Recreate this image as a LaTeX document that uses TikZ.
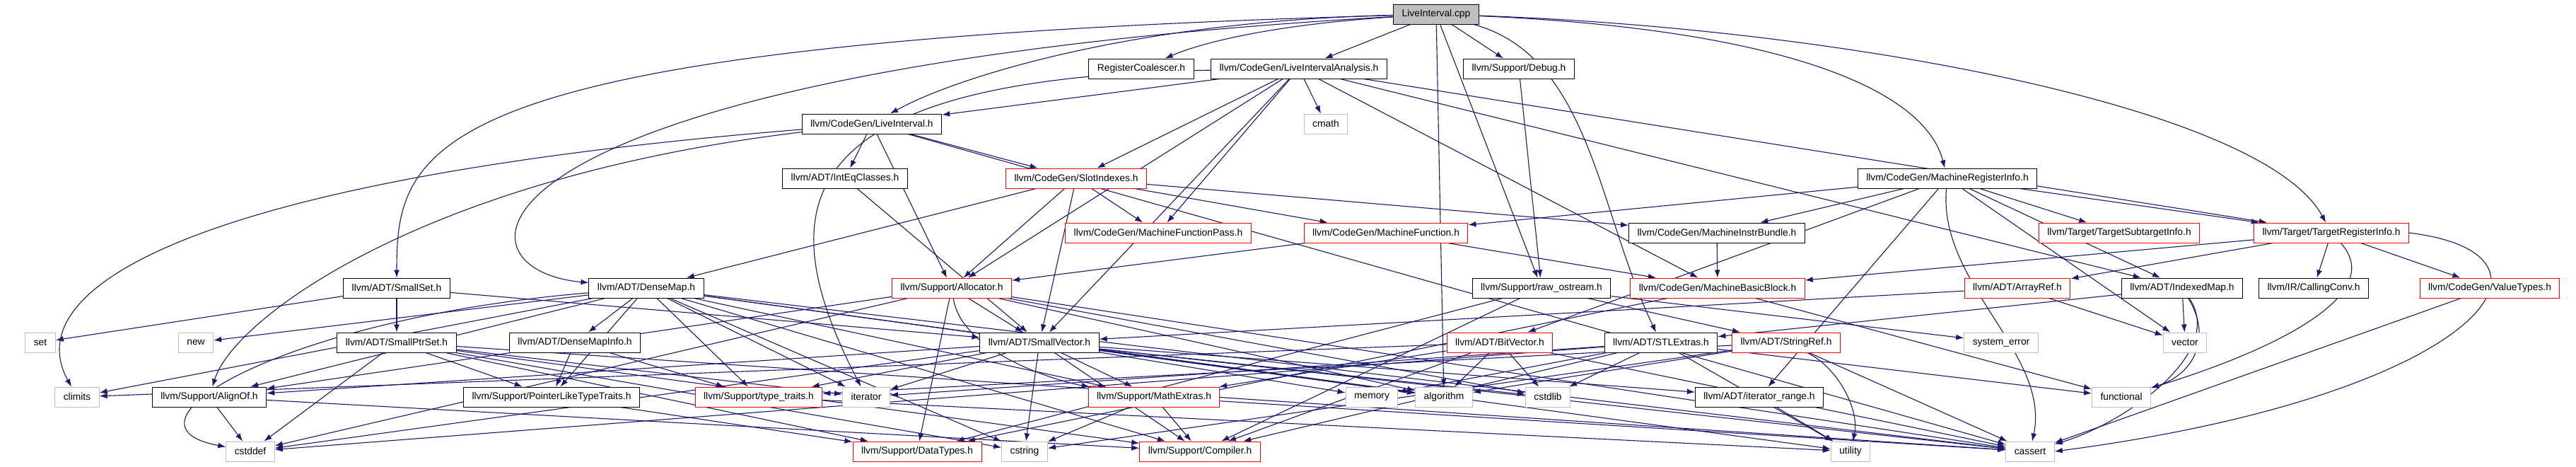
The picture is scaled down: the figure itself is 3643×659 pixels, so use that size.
\documentclass[tikz,border=0pt]{standalone}
\usepackage{fontspec}
\setmainfont{Liberation Sans}
\usetikzlibrary{arrows.meta,backgrounds}
\definecolor{edgeblue}{HTML}{191970}
\definecolor{boxred}{HTML}{FF0000}
\definecolor{boxgray}{HTML}{BFBFBF}
\begin{document}
\begin{tikzpicture}[x=1pt, y=-1pt,
  file/.style={draw=black, fill=white, line width=1pt, inner xsep=12pt, minimum height=28pt, font=\fontsize{13.8}{16}\selectfont},
  trunc/.style={file, draw=boxred},
  sys/.style={file, draw=boxgray},
  root/.style={file, fill=boxgray},
  dep/.style={draw=edgeblue, line width=1.1pt, -{Latex[length=11pt,width=8pt]}}]
\useasboundingbox (0,0) rectangle (3643,659);
% row 0
\node[root] (cpp) at (2031,20) {LiveInterval.cpp};
% row 1
\node[file] (coalescer) at (1614,97) {RegisterCoalescer.h};
\node[file] (lia) at (1837,97) {llvm/CodeGen/LiveIntervalAnalysis.h};
\node[file] (debug) at (2148,97) {llvm/Support/Debug.h};
% row 2
\node[file] (liveint) at (1233,175) {llvm/CodeGen/LiveInterval.h};
\node[sys] (cmath) at (1875,175) {cmath};
% row 3
\node[file] (inteq) at (1195,252) {llvm/ADT/IntEqClasses.h};
\node[trunc] (slotidx) at (1522,252) {llvm/CodeGen/SlotIndexes.h};
\node[file] (mri) at (2754,252) {llvm/CodeGen/MachineRegisterInfo.h};
% row 4
\node[trunc] (mfpass) at (1638,329) {llvm/CodeGen/MachineFunctionPass.h};
\node[trunc] (mfunc) at (1960,329) {llvm/CodeGen/MachineFunction.h};
\node[file] (bundle) at (2428,329) {llvm/CodeGen/MachineInstrBundle.h};
\node[trunc] (subtarget) at (2997,329) {llvm/Target/TargetSubtargetInfo.h};
\node[trunc] (tri) at (3297,329) {llvm/Target/TargetRegisterInfo.h};
% row 5
\node[file] (smallset) at (561,407) {llvm/ADT/SmallSet.h};
\node[file] (densemap) at (914,407) {llvm/ADT/DenseMap.h};
\node[trunc] (allocator) at (1346,407) {llvm/Support/Allocator.h};
\node[file] (rawos) at (2180,407) {llvm/Support/raw\_ostream.h};
\node[trunc] (mbb) at (2429,407) {llvm/CodeGen/MachineBasicBlock.h};
\node[trunc] (arrayref) at (2853,407) {llvm/ADT/ArrayRef.h};
\node[file] (indexedmap) at (3086,407) {llvm/ADT/IndexedMap.h};
\node[file] (callconv) at (3272,407) {llvm/IR/CallingConv.h};
\node[trunc] (valuetypes) at (3521,407) {llvm/CodeGen/ValueTypes.h};
% row 6
\node[sys] (set) at (57,484) {set};
\node[sys] (new) at (277,484) {new};
\node[file] (smallptrset) at (561,484) {llvm/ADT/SmallPtrSet.h};
\node[file] (dmapinfo) at (813,484) {llvm/ADT/DenseMapInfo.h};
\node[file] (smallvec) at (1470,484) {llvm/ADT/SmallVector.h};
\node[trunc] (bitvec) at (2121,484) {llvm/ADT/BitVector.h};
\node[file] (stlextras) at (2349,484) {llvm/ADT/STLExtras.h};
\node[trunc] (stringref) at (2526,484) {llvm/ADT/StringRef.h};
\node[sys] (syserr) at (2830,484) {system\_error};
\node[sys] (vector) at (3090,484) {vector};
% row 7
\node[sys] (climits) at (109,561) {climits};
\node[file] (alignof) at (296,561) {llvm/Support/AlignOf.h};
\node[file] (ptrtraits) at (780,561) {llvm/Support/PointerLikeTypeTraits.h};
\node[trunc] (typetraits) at (1073,561) {llvm/Support/type\_traits.h};
\node[sys] (iterator) at (1225,561) {iterator};
\node[trunc] (mathextras) at (1632,561) {llvm/Support/MathExtras.h};
\node[sys] (memory) at (1940,561) {memory};
\node[sys] (algorithm) at (2042,561) {algorithm};
\node[sys] (cstdlib) at (2189,561) {cstdlib};
\node[file] (itrange) at (2488,561) {llvm/ADT/iterator\_range.h};
\node[sys] (functional) at (3000,561) {functional};
% row 8
\node[sys] (cstddef) at (354,638) {cstddef};
\node[trunc] (datatypes) at (1297,638) {llvm/Support/DataTypes.h};
\node[sys] (cstring) at (1449,638) {cstring};
\node[trunc] (compiler) at (1697,638) {llvm/Support/Compiler.h};
\node[sys] (utility) at (2617,638) {utility};
\node[sys] (cassert) at (2871,638) {cassert};
\begin{scope}[on background layer]
% LiveInterval.cpp
\draw[dep] (cpp) .. controls (1600,30) and (1350,110) .. (liveint);
\draw[dep] (cpp) .. controls (1800,35) and (1700,60) .. (coalescer);
\draw[dep] (cpp) .. controls (640,100) and (620,380) .. (densemap);
\draw[dep] (cpp) .. controls (2250,80) and (2260,300) .. (stlextras);
\draw[dep] (cpp) .. controls (600,60) and (561,200) .. (smallset);
\draw[dep] (cpp) -- (lia);
\draw[dep] (cpp) .. controls (2500,40) and (2720,120) .. (mri);
\draw[dep] (cpp) -- (debug);
\draw[dep] (cpp) -- (rawos);
\draw[dep] (cpp) .. controls (2600,40) and (3200,150) .. (tri);
\draw[dep] (cpp) -- (algorithm);
% LiveIntervalAnalysis.h
\draw[dep] (lia) -- (liveint);
\draw[dep] (lia) -- (slotidx);
\draw[dep] (lia) -- (mfpass);
\draw[dep] (lia) -- (smallvec);
\draw[dep] (lia) -- (allocator);
\draw[dep] (lia) .. controls (1100,110) and (1090,300) .. (iterator);
\draw[dep] (lia) -- (cmath);
\draw[dep] (lia) -- (mbb);
\draw[dep] (lia) -- (indexedmap);
\draw[dep] (lia) -- (tri);
\draw[dep] (debug) -- (rawos);
% LiveInterval.h
\draw[dep] (liveint) .. controls (300,250) and (20,400) .. (climits);
\draw[dep] (liveint) .. controls (600,250) and (330,450) .. (alignof);
\draw[dep] (liveint) -- (inteq);
\draw[dep] (liveint) -- (allocator);
\draw[dep] (liveint) -- (slotidx);
\draw[dep] (liveint) -- (cassert);
\draw[dep] (inteq) -- (smallvec);
% SlotIndexes.h
\draw[dep] (slotidx) -- (densemap);
\draw[dep] (slotidx) -- (allocator);
\draw[dep] (slotidx) -- (smallvec);
\draw[dep] (slotidx) -- (mfpass);
\draw[dep] (slotidx) -- (mfunc);
\draw[dep] (slotidx) -- (bundle);
% MachineRegisterInfo.h
\draw[dep] (mri) -- (mfunc);
\draw[dep] (mri) -- (bundle);
\draw[dep] (mri) -- (bitvec);
\draw[dep] (mri) -- (itrange);
\draw[dep] (mri) -- (indexedmap);
\draw[dep] (mri) -- (vector);
\draw[dep] (mri) -- (subtarget);
\draw[dep] (mri) -- (tri);
\draw[dep] (mri) .. controls (2740,400) and (2900,500) .. (cassert);
\draw[dep] (mfunc) -- (mbb);
\draw[dep] (mfunc) -- (allocator);
\draw[dep] (bundle) -- (mbb);
% TargetRegisterInfo.h
\draw[dep] (tri) -- (arrayref);
\draw[dep] (tri) -- (mbb);
\draw[dep] (tri) -- (callconv);
\draw[dep] (tri) -- (valuetypes);
\draw[dep] (tri) .. controls (3380,420) and (3200,500) .. (functional);
\draw[dep] (tri.east) .. controls (3660,360) and (3500,560) .. (cassert.east);
\draw[dep] (valuetypes) -- (cassert);
\draw[dep] (indexedmap) -- (stlextras);
\draw[dep] (indexedmap) -- (vector);
\draw[dep] (indexedmap) .. controls (3130,480) and (3100,530) .. (functional);
\draw[dep] (indexedmap) .. controls (3150,500) and (3000,600) .. (cassert);
\draw[dep] (arrayref) -- (smallvec);
\draw[dep] (arrayref) -- (vector);
% DenseMap.h
\draw[dep] (densemap) -- (dmapinfo);
\draw[dep] (densemap) -- (alignof);
\draw[dep] (densemap) -- (compiler);
\draw[dep] (densemap) -- (mathextras);
\draw[dep] (densemap) -- (ptrtraits);
\draw[dep] (densemap) -- (typetraits);
\draw[dep] (densemap) -- (algorithm);
\draw[dep] (densemap) -- (cassert);
\draw[dep] (densemap) -- (climits);
\draw[dep] (densemap) .. controls (400,450) and (150,600) .. (cstddef);
\draw[dep] (densemap) -- (cstring);
\draw[dep] (densemap) -- (iterator);
\draw[dep] (densemap) -- (new);
\draw[dep] (densemap) -- (utility);
% SmallSet.h, SmallPtrSet.h
\draw[dep] (smallset) -- (smallptrset);
\draw[dep] (smallset) -- (smallvec);
\draw[dep] (smallset) -- (set);
\draw[dep] (smallptrset) -- (compiler);
\draw[dep] (smallptrset) -- (datatypes);
\draw[dep] (smallptrset) -- (ptrtraits);
\draw[dep] (smallptrset) -- (cassert);
\draw[dep] (smallptrset) -- (cstddef);
\draw[dep] (smallptrset) -- (cstring);
\draw[dep] (smallptrset) -- (iterator);
\draw[dep] (dmapinfo) -- (ptrtraits);
\draw[dep] (dmapinfo) -- (typetraits);
\draw[dep] (ptrtraits) -- (datatypes);
\draw[dep] (alignof) -- (compiler);
\draw[dep] (alignof) -- (cstddef);
\draw[dep] (typetraits) -- (utility);
\draw[dep] (mathextras) -- (compiler);
\draw[dep] (mathextras) -- (cstring);
\draw[dep] (mathextras) -- (cassert);
% SmallVector.h
\draw[dep] (smallvec) -- (itrange);
\draw[dep] (smallvec) -- (alignof);
\draw[dep] (smallvec) -- (compiler);
\draw[dep] (smallvec) -- (mathextras);
\draw[dep] (smallvec) -- (typetraits);
\draw[dep] (smallvec) -- (algorithm);
\draw[dep] (smallvec) -- (cassert);
\draw[dep] (smallvec) -- (cstddef);
\draw[dep] (smallvec) -- (cstdlib);
\draw[dep] (smallvec) -- (cstring);
\draw[dep] (smallvec) -- (iterator);
\draw[dep] (smallvec) -- (memory);
% Allocator.h
\draw[dep] (allocator) -- (smallvec);
\draw[dep] (allocator) -- (alignof);
\draw[dep] (allocator) -- (datatypes);
\draw[dep] (allocator) .. controls (1360,500) and (1500,540) .. (mathextras);
\draw[dep] (allocator) -- (algorithm);
\draw[dep] (allocator) -- (cassert);
\draw[dep] (allocator) -- (cstddef);
\draw[dep] (allocator) -- (cstdlib);
% raw_ostream.h, MachineBasicBlock.h
\draw[dep] (rawos) -- (stringref);
\draw[dep] (rawos) -- (compiler);
\draw[dep] (rawos) -- (datatypes);
\draw[dep] (rawos) -- (syserr);
\draw[dep] (mbb) -- (functional);
\draw[dep] (mbb) -- (datatypes);
% BitVector.h
\draw[dep] (bitvec) -- (compiler);
\draw[dep] (bitvec) -- (mathextras);
\draw[dep] (bitvec) -- (algorithm);
\draw[dep] (bitvec) -- (cassert);
\draw[dep] (bitvec) -- (climits);
\draw[dep] (bitvec) -- (cstdlib);
% STLExtras.h
\draw[dep] (stlextras) -- (compiler);
\draw[dep] (stlextras) -- (cstddef);
\draw[dep] (stlextras) -- (cstdlib);
\draw[dep] (stlextras) -- (functional);
\draw[dep] (stlextras) -- (iterator);
\draw[dep] (stlextras) -- (memory);
\draw[dep] (stlextras) -- (utility);
% StringRef.h
\draw[dep] (stringref) -- (typetraits);
\draw[dep] (stringref) -- (algorithm);
\draw[dep] (stringref) -- (cassert);
\draw[dep] (stringref) -- (cstring);
\draw[dep] (stringref) .. controls (2600,520) and (2630,580) .. (utility);
\draw[dep] (itrange) -- (utility);
\end{scope}
\end{tikzpicture}
\end{document}
